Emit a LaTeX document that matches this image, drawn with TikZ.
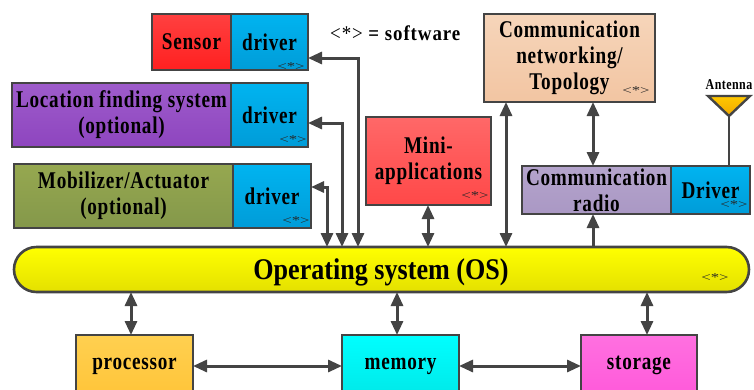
\documentclass[tikz,border=0pt]{standalone}
\usepackage{fontspec}
\setmainfont{Liberation Serif}
\newfontfamily\bodyf{Liberation Serif}[FakeStretch=0.8,LetterSpace=3]
\newfontfamily\osf{Liberation Serif}[FakeStretch=0.87]
\newfontfamily\legf{Liberation Serif}[FakeStretch=0.9,LetterSpace=4.4]
\newfontfamily\swf{Liberation Serif}[FakeStretch=1.4]
\usetikzlibrary{arrows.meta,shapes.misc}
\definecolor{ln}{HTML}{444444}
\definecolor{sensorA}{HTML}{FF4040}\definecolor{sensorB}{HTML}{FF2020}
\definecolor{drvA}{HTML}{00B4F0}\definecolor{drvB}{HTML}{009CD8}
\definecolor{locA}{HTML}{9E5CCB}\definecolor{locB}{HTML}{8E45BF}
\definecolor{mobA}{HTML}{96A850}\definecolor{mobB}{HTML}{84984A}
\definecolor{miniA}{HTML}{FF6868}\definecolor{miniB}{HTML}{FF4848}
\definecolor{netA}{HTML}{F6D5BA}\definecolor{netB}{HTML}{F2C5A2}
\definecolor{radA}{HTML}{B4A4CC}\definecolor{radB}{HTML}{AA98C4}
\definecolor{osA}{HTML}{FFFF00}\definecolor{osB}{HTML}{E4E000}
\definecolor{procA}{HTML}{FFD050}\definecolor{procB}{HTML}{FFC030}
\definecolor{memA}{HTML}{00FFFF}\definecolor{memB}{HTML}{00E0E0}
\definecolor{stoA}{HTML}{FF70E0}\definecolor{stoB}{HTML}{FF50D8}
\definecolor{antA}{HTML}{FFC800}\definecolor{antB}{HTML}{F0A800}
\newcommand{\txtfont}{\bodyf\bfseries\fontsize{24}{26}\selectfont}
\tikzset{
  x=1pt,y=-1pt,
  blk/.style={draw=ln,line width=2.6pt,rectangle,inner sep=0pt,outer sep=0pt,align=center,
     font=\txtfont,text=black},
  grad/.style 2 args={top color=#1,bottom color=#2},
  ar/.style={draw=ln,line width=3pt,-{Triangle[width=12pt,length=14pt]}},
  dar/.style={draw=ln,line width=3pt,{Triangle[width=12pt,length=14pt]}-{Triangle[width=12pt,length=14pt]}},
  sw/.style={inner sep=0pt,font=\swf\fontsize{12}{12}\selectfont,text=black!85},
}
\newcommand{\bx}[7]{\node[blk,#6,minimum width=#4pt-#2pt,minimum height=#5pt-#3pt] (#1) at ({(#2+#4)/2},{(#3+#5)/2}) {#7};}
\begin{document}
\begin{tikzpicture}
\clip (0,0) rectangle (754,389);
\fill[white] (0,0) rectangle (754,389);
\bx{sensor}{152}{14}{231}{70}{grad={sensorA}{sensorB}}{Sensor}
\bx{drvS}{231}{14}{308}{70}{grad={drvA}{drvB}}{driver}
\bx{loc}{12}{83}{231}{147}{grad={locA}{locB}}{Location finding system\\(optional)}
\bx{drvL}{231}{83}{308}{147}{grad={drvA}{drvB}}{driver}
\bx{mob}{14}{164}{233}{228}{grad={mobA}{mobB}}{Mobilizer/Actuator\\(optional)}
\bx{drvM}{233}{164}{311}{228}{grad={drvA}{drvB}}{driver}
\bx{mini}{366}{117}{491}{205}{grad={miniA}{miniB}}{Mini-\\applications}
\bx{net}{484}{14}{655}{102}{grad={netA}{netB}}{Communication\\networking/\\Topology}
\bx{radio}{522}{166}{671}{214}{grad={radA}{radB}}{Communication\\radio}
\bx{drvR}{671}{166}{750}{214}{grad={drvA}{drvB}}{Driver}
\node[blk,rounded rectangle,top color=osA,bottom color=osB,minimum width=735pt,minimum height=45pt,
  font=\osf\bfseries\fontsize{30}{30}\selectfont] (os) at (381.5,269.5) {};
\node[inner sep=0pt,anchor=base,font=\osf\bfseries\fontsize{30}{30}\selectfont] (osT) at (381,279) {Operating system (OS)};
\bx{proc}{76}{335}{193}{420}{grad={procA}{procB}}{}
\bx{mem}{342}{335}{459}{420}{grad={memA}{memB}}{}
\bx{sto}{581}{335}{697}{420}{grad={stoA}{stoB}}{}
\node[font=\txtfont,inner sep=0pt,anchor=base] (procT) at (134.5,369) {processor};
\node[font=\txtfont,inner sep=0pt,anchor=base] (memT) at (400.5,369) {memory};
\node[font=\txtfont,inner sep=0pt,anchor=base] (stoT) at (639,369) {storage};
\node[inner sep=0pt,anchor=west,font=\legf\bfseries\fontsize{21}{22}\selectfont] (legend) at (330,33) {{\mdseries <*>} = software};
\node[sw] (m1) at (291,66.5) {<*>};
\node[sw] (m2) at (293,140) {<*>};
\node[sw] (m3) at (296,221) {<*>};
\node[sw] (m4) at (475,196) {<*>};
\node[sw] (m5) at (636,91) {<*>};
\node[sw] (m6) at (734,205) {<*>};
\node[sw] (m7) at (715,278) {<*>};
\coordinate (tip) at (729,116);
\draw[draw=ln,line width=2.4pt,line join=miter,top color=antA,bottom color=antB] (708,96) -- (750,96) -- (tip) -- cycle;
\draw[ln,line width=2.6pt] (tip) -- (tip |- drvR.north);
\node[inner sep=0pt,font=\bodyf\bfseries\fontsize{15}{15}\selectfont] (ant) at (729,85) {Antenna};
\coordinate (xs) at (358,0);\coordinate (xl) at (342,0);\coordinate (xm) at (327,0);
\coordinate (ps) at (drvS.east |- 0,58);\coordinate (pl) at (drvL.east |- 0,123);\coordinate (pm) at (drvM.east |- 0,187);
\draw[dar] (ps) -- (xs |- ps) -- (xs |- os.north);
\draw[dar] (pl) -- (xl |- pl) -- (xl |- os.north);
\draw[draw=ln,line width=3pt,{Triangle[width=11pt,length=13pt]}-{Triangle[width=12pt,length=14pt]}] (pm) -- (xm |- pm) -- (xm |- os.north);
\draw[dar] (mini.south -| 428,0) -- (os.north -| 428,0);
\draw[dar] (net.south -| 506,0) -- (os.north -| 506,0);
\draw[dar] (net.south -| 593,0) -- (radio.north -| 593,0);
\draw[ar] (os.north -| 593,0) -- (radio.south -| 593,0);
\draw[dar] (os.south -| 131,0) -- (proc.north -| 131,0);
\draw[dar] (os.south -| 397,0) -- (mem.north -| 397,0);
\draw[dar] (os.south -| 647,0) -- (sto.north -| 647,0);
\draw[dar] (proc.east |- 0,366) -- (mem.west |- 0,366);
\draw[dar] (mem.east |- 0,366) -- (sto.west |- 0,366);
\end{tikzpicture}
\end{document}
